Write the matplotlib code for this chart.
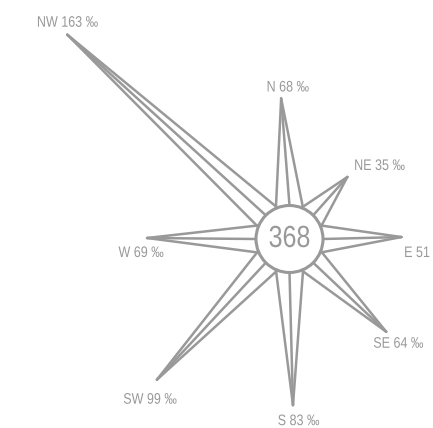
import numpy as np
import matplotlib
matplotlib.use("Agg")
import matplotlib.pyplot as plt
from matplotlib.patches import Circle
from matplotlib.patheffects import AbstractPathEffect
from matplotlib.transforms import Affine2D

# ---- data ----
directions = ["N", "NE", "E", "SE", "S", "SW", "W", "NW"]
values = [68, 35, 51, 64, 83, 99, 69, 163]
units = [" ‰", " ‰", "", " ‰", " ‰", " ‰", " ‰", " ‰"]
total = 368

# ---- style / layout ----
compass_deg = [0, 45, 90, 135, 180, 225, 270, 315]
tilt_deg = [-3.4, -2.0, -1.0, -1.2, -1.2, -1.7, 0.4, -2.4]
label_offsets = [(6.5, -11), (32, -11), (15.5, 16), (12, 12),
                 (5.5, 16), (-7, 20), (-6, 15), (0, -12)]
cx, cy = 289.5, 239.0
r_circle = 33.5
r0, k = 25.5, 1.695
half_base = 24.0
gray = "#999999"

plt.rcParams["font.family"] = ["Liberation Sans", "DejaVu Sans"]


class Condense(AbstractPathEffect):
    """Draw text horizontally condensed (narrow face look)."""

    def __init__(self, sx):
        super().__init__()
        self.sx = sx

    def draw_path(self, renderer, gc, tpath, affine, rgbFace=None):
        ext = tpath.get_extents()
        xc = (ext.x0 + ext.x1) / 2
        a = Affine2D().translate(-xc, 0).scale(self.sx, 1).translate(xc, 0) + affine
        renderer.draw_path(gc, tpath, a, rgbFace)


narrow = [Condense(0.82)]

fig = plt.figure(figsize=(4.33, 4.28), dpi=100)
ax = fig.add_axes([0, 0, 1, 1])
ax.set_xlim(0, 433)
ax.set_ylim(428, 0)
ax.axis("off")


def pt(angle_deg, r):
    a = np.radians(angle_deg)
    return cx + r * np.sin(a), cy - r * np.cos(a)


for d, v, u, ang, tilt, off in zip(directions, values, units, compass_deg,
                                   tilt_deg, label_offsets):
    L = r0 + k * v
    tx, ty = pt(ang + tilt, L)
    for da in (-half_base, 0, half_base):
        bx, by = pt(ang + da, r_circle)
        ax.plot([tx, bx], [ty, by], color=gray, lw=1.8,
                solid_capstyle="round", zorder=2)
    ax.text(tx + off[0], ty + off[1], f"{d} {v}{u}", ha="center",
            va="center", fontsize=11, color=gray, path_effects=narrow)

ax.add_patch(Circle((cx, cy), r_circle, facecolor="white", edgecolor=gray,
                    lw=2.2, zorder=3))
ax.text(cx, cy, str(total), ha="center", va="center", fontsize=22,
        color=gray, zorder=4, path_effects=narrow)

fig.savefig("out.png", dpi=100)
